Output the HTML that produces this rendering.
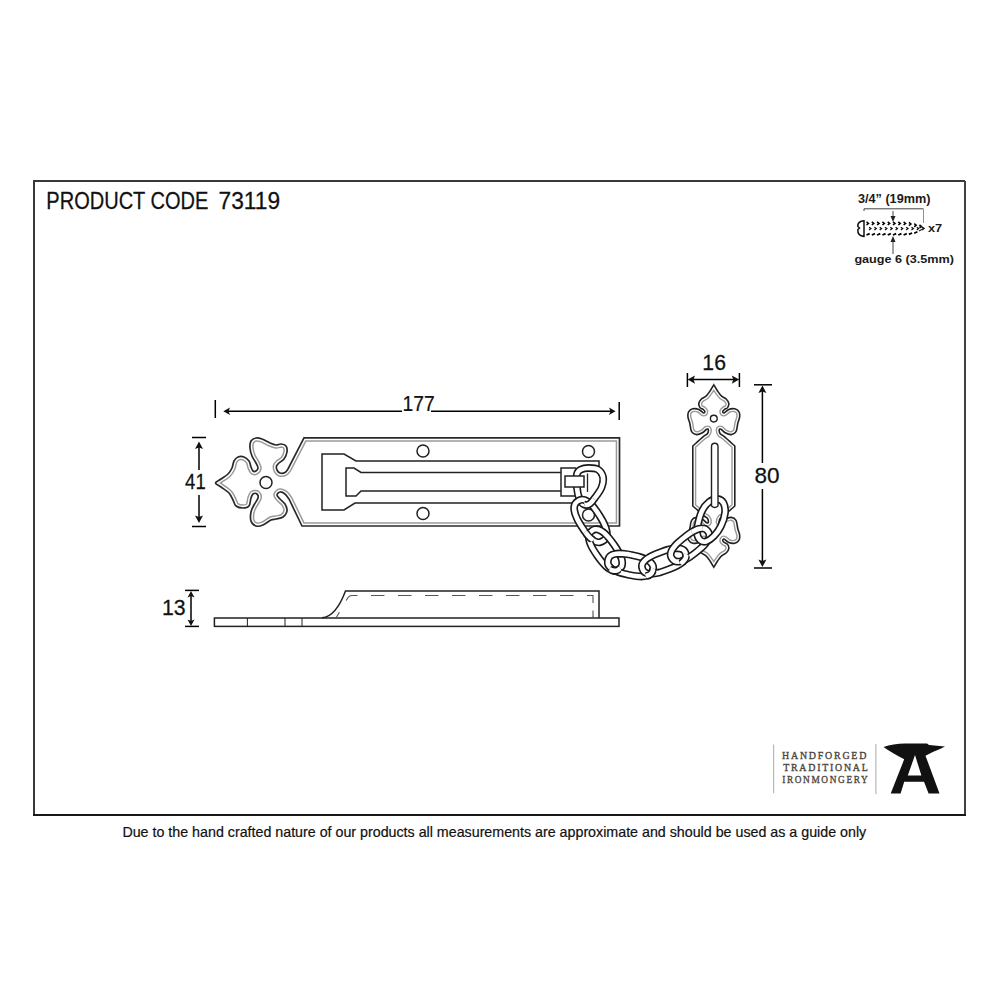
<!DOCTYPE html>
<html><head><meta charset="utf-8">
<style>
html,body{margin:0;padding:0;background:#fff;width:1000px;height:1000px;overflow:hidden}
svg{display:block}
</style></head>
<body>
<svg width="1000" height="1000" viewBox="0 0 1000 1000">
<rect x="0" y="0" width="1000" height="1000" fill="#fff"/>
<path d="M34 815 V181 H965" fill="none" stroke="#383838" stroke-width="2"/><path d="M965 181 V815" fill="none" stroke="#404040" stroke-width="2"/><path d="M33 815 H966" fill="none" stroke="#181818" stroke-width="2"/>

<defs><clipPath id="cpl"><path d="M304 437.9 L288 469 C287.5 469.6 286.3 471.8 285.0 472.5 C283.7 473.2 281.3 473.4 280.0 473.0 C278.7 472.6 277.6 471.2 277.0 470.0 C276.4 468.8 276.2 467.2 276.5 466.0 C276.8 464.8 277.8 464.2 279.0 463.0 C280.2 461.8 282.7 460.8 284.0 459.0 C285.3 457.2 286.7 454.2 287.0 452.0 C287.3 449.8 287.0 447.3 286.0 446.0 C285.0 444.7 282.7 444.2 281.0 444.0 C279.3 443.8 277.8 445.2 276.0 445.0 C274.2 444.8 272.3 444.0 270.0 443.0 C267.7 442.0 264.3 439.8 262.0 439.0 C259.7 438.2 257.8 437.7 256.0 438.0 C254.2 438.3 252.0 439.3 251.0 441.0 C250.0 442.7 249.8 445.5 250.0 448.0 C250.2 450.5 251.0 453.5 252.0 456.0 C253.0 458.5 255.0 461.0 256.0 463.0 C257.0 465.0 258.0 466.7 258.0 468.0 C258.0 469.3 256.8 470.5 256.0 471.0 C255.2 471.5 253.8 471.7 253.0 471.0 C252.2 470.3 251.7 468.7 251.0 467.0 C250.3 465.3 250.2 462.7 249.0 461.0 C247.8 459.3 245.8 457.7 244.0 457.0 C242.2 456.3 239.7 456.3 238.0 457.0 C236.3 457.7 235.0 459.2 234.0 461.0 C233.0 462.8 233.0 465.8 232.0 468.0 C231.0 470.2 229.8 472.2 228.0 474.0 C226.2 475.8 223.1 477.5 221.0 479.0 C218.9 480.5 215.5 481.7 215.5 483.0 C215.5 484.3 218.8 485.3 221.0 487.0 C223.2 488.7 227.0 490.8 229.0 493.0 C231.0 495.2 231.8 497.8 233.0 500.0 C234.2 502.2 234.3 504.7 236.0 506.0 C237.7 507.3 240.8 508.0 243.0 508.0 C245.2 508.0 247.7 507.7 249.0 506.0 C250.3 504.3 250.3 500.0 251.0 498.0 C251.7 496.0 252.0 494.7 253.0 494.0 C254.0 493.3 256.2 493.3 257.0 494.0 C257.8 494.7 258.5 496.2 258.0 498.0 C257.5 499.8 255.2 502.7 254.0 505.0 C252.8 507.3 251.5 509.3 251.0 512.0 C250.5 514.7 250.2 518.7 251.0 521.0 C251.8 523.3 254.0 525.3 256.0 526.0 C258.0 526.7 260.5 526.0 263.0 525.0 C265.5 524.0 268.8 521.0 271.0 520.0 C273.2 519.0 274.0 519.5 276.0 519.0 C278.0 518.5 281.2 518.3 283.0 517.0 C284.8 515.7 286.7 513.2 287.0 511.0 C287.3 508.8 286.2 506.0 285.0 504.0 C283.8 502.0 281.3 500.5 280.0 499.0 C278.7 497.5 277.0 496.2 277.0 495.0 C277.0 493.8 278.7 492.2 280.0 492.0 C281.3 491.8 283.5 492.8 285.0 494.0 C286.5 495.2 288.3 498.2 289.0 499.0 L302 526 L619.5 526 L619.5 437.9 Z"/></clipPath></defs>
<path d="M304 437.9 L288 469 C287.5 469.6 286.3 471.8 285.0 472.5 C283.7 473.2 281.3 473.4 280.0 473.0 C278.7 472.6 277.6 471.2 277.0 470.0 C276.4 468.8 276.2 467.2 276.5 466.0 C276.8 464.8 277.8 464.2 279.0 463.0 C280.2 461.8 282.7 460.8 284.0 459.0 C285.3 457.2 286.7 454.2 287.0 452.0 C287.3 449.8 287.0 447.3 286.0 446.0 C285.0 444.7 282.7 444.2 281.0 444.0 C279.3 443.8 277.8 445.2 276.0 445.0 C274.2 444.8 272.3 444.0 270.0 443.0 C267.7 442.0 264.3 439.8 262.0 439.0 C259.7 438.2 257.8 437.7 256.0 438.0 C254.2 438.3 252.0 439.3 251.0 441.0 C250.0 442.7 249.8 445.5 250.0 448.0 C250.2 450.5 251.0 453.5 252.0 456.0 C253.0 458.5 255.0 461.0 256.0 463.0 C257.0 465.0 258.0 466.7 258.0 468.0 C258.0 469.3 256.8 470.5 256.0 471.0 C255.2 471.5 253.8 471.7 253.0 471.0 C252.2 470.3 251.7 468.7 251.0 467.0 C250.3 465.3 250.2 462.7 249.0 461.0 C247.8 459.3 245.8 457.7 244.0 457.0 C242.2 456.3 239.7 456.3 238.0 457.0 C236.3 457.7 235.0 459.2 234.0 461.0 C233.0 462.8 233.0 465.8 232.0 468.0 C231.0 470.2 229.8 472.2 228.0 474.0 C226.2 475.8 223.1 477.5 221.0 479.0 C218.9 480.5 215.5 481.7 215.5 483.0 C215.5 484.3 218.8 485.3 221.0 487.0 C223.2 488.7 227.0 490.8 229.0 493.0 C231.0 495.2 231.8 497.8 233.0 500.0 C234.2 502.2 234.3 504.7 236.0 506.0 C237.7 507.3 240.8 508.0 243.0 508.0 C245.2 508.0 247.7 507.7 249.0 506.0 C250.3 504.3 250.3 500.0 251.0 498.0 C251.7 496.0 252.0 494.7 253.0 494.0 C254.0 493.3 256.2 493.3 257.0 494.0 C257.8 494.7 258.5 496.2 258.0 498.0 C257.5 499.8 255.2 502.7 254.0 505.0 C252.8 507.3 251.5 509.3 251.0 512.0 C250.5 514.7 250.2 518.7 251.0 521.0 C251.8 523.3 254.0 525.3 256.0 526.0 C258.0 526.7 260.5 526.0 263.0 525.0 C265.5 524.0 268.8 521.0 271.0 520.0 C273.2 519.0 274.0 519.5 276.0 519.0 C278.0 518.5 281.2 518.3 283.0 517.0 C284.8 515.7 286.7 513.2 287.0 511.0 C287.3 508.8 286.2 506.0 285.0 504.0 C283.8 502.0 281.3 500.5 280.0 499.0 C278.7 497.5 277.0 496.2 277.0 495.0 C277.0 493.8 278.7 492.2 280.0 492.0 C281.3 491.8 283.5 492.8 285.0 494.0 C286.5 495.2 288.3 498.2 289.0 499.0 L302 526 L619.5 526 L619.5 437.9 Z" fill="#fff"/>
<g clip-path="url(#cpl)" fill="none">
 <path d="M304 437.9 L288 469 C287.5 469.6 286.3 471.8 285.0 472.5 C283.7 473.2 281.3 473.4 280.0 473.0 C278.7 472.6 277.6 471.2 277.0 470.0 C276.4 468.8 276.2 467.2 276.5 466.0 C276.8 464.8 277.8 464.2 279.0 463.0 C280.2 461.8 282.7 460.8 284.0 459.0 C285.3 457.2 286.7 454.2 287.0 452.0 C287.3 449.8 287.0 447.3 286.0 446.0 C285.0 444.7 282.7 444.2 281.0 444.0 C279.3 443.8 277.8 445.2 276.0 445.0 C274.2 444.8 272.3 444.0 270.0 443.0 C267.7 442.0 264.3 439.8 262.0 439.0 C259.7 438.2 257.8 437.7 256.0 438.0 C254.2 438.3 252.0 439.3 251.0 441.0 C250.0 442.7 249.8 445.5 250.0 448.0 C250.2 450.5 251.0 453.5 252.0 456.0 C253.0 458.5 255.0 461.0 256.0 463.0 C257.0 465.0 258.0 466.7 258.0 468.0 C258.0 469.3 256.8 470.5 256.0 471.0 C255.2 471.5 253.8 471.7 253.0 471.0 C252.2 470.3 251.7 468.7 251.0 467.0 C250.3 465.3 250.2 462.7 249.0 461.0 C247.8 459.3 245.8 457.7 244.0 457.0 C242.2 456.3 239.7 456.3 238.0 457.0 C236.3 457.7 235.0 459.2 234.0 461.0 C233.0 462.8 233.0 465.8 232.0 468.0 C231.0 470.2 229.8 472.2 228.0 474.0 C226.2 475.8 223.1 477.5 221.0 479.0 C218.9 480.5 215.5 481.7 215.5 483.0 C215.5 484.3 218.8 485.3 221.0 487.0 C223.2 488.7 227.0 490.8 229.0 493.0 C231.0 495.2 231.8 497.8 233.0 500.0 C234.2 502.2 234.3 504.7 236.0 506.0 C237.7 507.3 240.8 508.0 243.0 508.0 C245.2 508.0 247.7 507.7 249.0 506.0 C250.3 504.3 250.3 500.0 251.0 498.0 C251.7 496.0 252.0 494.7 253.0 494.0 C254.0 493.3 256.2 493.3 257.0 494.0 C257.8 494.7 258.5 496.2 258.0 498.0 C257.5 499.8 255.2 502.7 254.0 505.0 C252.8 507.3 251.5 509.3 251.0 512.0 C250.5 514.7 250.2 518.7 251.0 521.0 C251.8 523.3 254.0 525.3 256.0 526.0 C258.0 526.7 260.5 526.0 263.0 525.0 C265.5 524.0 268.8 521.0 271.0 520.0 C273.2 519.0 274.0 519.5 276.0 519.0 C278.0 518.5 281.2 518.3 283.0 517.0 C284.8 515.7 286.7 513.2 287.0 511.0 C287.3 508.8 286.2 506.0 285.0 504.0 C283.8 502.0 281.3 500.5 280.0 499.0 C278.7 497.5 277.0 496.2 277.0 495.0 C277.0 493.8 278.7 492.2 280.0 492.0 C281.3 491.8 283.5 492.8 285.0 494.0 C286.5 495.2 288.3 498.2 289.0 499.0 L302 526 L619.5 526 L619.5 437.9 Z" stroke="#9a9a9a" stroke-width="7.6"/>
 <path d="M304 437.9 L288 469 C287.5 469.6 286.3 471.8 285.0 472.5 C283.7 473.2 281.3 473.4 280.0 473.0 C278.7 472.6 277.6 471.2 277.0 470.0 C276.4 468.8 276.2 467.2 276.5 466.0 C276.8 464.8 277.8 464.2 279.0 463.0 C280.2 461.8 282.7 460.8 284.0 459.0 C285.3 457.2 286.7 454.2 287.0 452.0 C287.3 449.8 287.0 447.3 286.0 446.0 C285.0 444.7 282.7 444.2 281.0 444.0 C279.3 443.8 277.8 445.2 276.0 445.0 C274.2 444.8 272.3 444.0 270.0 443.0 C267.7 442.0 264.3 439.8 262.0 439.0 C259.7 438.2 257.8 437.7 256.0 438.0 C254.2 438.3 252.0 439.3 251.0 441.0 C250.0 442.7 249.8 445.5 250.0 448.0 C250.2 450.5 251.0 453.5 252.0 456.0 C253.0 458.5 255.0 461.0 256.0 463.0 C257.0 465.0 258.0 466.7 258.0 468.0 C258.0 469.3 256.8 470.5 256.0 471.0 C255.2 471.5 253.8 471.7 253.0 471.0 C252.2 470.3 251.7 468.7 251.0 467.0 C250.3 465.3 250.2 462.7 249.0 461.0 C247.8 459.3 245.8 457.7 244.0 457.0 C242.2 456.3 239.7 456.3 238.0 457.0 C236.3 457.7 235.0 459.2 234.0 461.0 C233.0 462.8 233.0 465.8 232.0 468.0 C231.0 470.2 229.8 472.2 228.0 474.0 C226.2 475.8 223.1 477.5 221.0 479.0 C218.9 480.5 215.5 481.7 215.5 483.0 C215.5 484.3 218.8 485.3 221.0 487.0 C223.2 488.7 227.0 490.8 229.0 493.0 C231.0 495.2 231.8 497.8 233.0 500.0 C234.2 502.2 234.3 504.7 236.0 506.0 C237.7 507.3 240.8 508.0 243.0 508.0 C245.2 508.0 247.7 507.7 249.0 506.0 C250.3 504.3 250.3 500.0 251.0 498.0 C251.7 496.0 252.0 494.7 253.0 494.0 C254.0 493.3 256.2 493.3 257.0 494.0 C257.8 494.7 258.5 496.2 258.0 498.0 C257.5 499.8 255.2 502.7 254.0 505.0 C252.8 507.3 251.5 509.3 251.0 512.0 C250.5 514.7 250.2 518.7 251.0 521.0 C251.8 523.3 254.0 525.3 256.0 526.0 C258.0 526.7 260.5 526.0 263.0 525.0 C265.5 524.0 268.8 521.0 271.0 520.0 C273.2 519.0 274.0 519.5 276.0 519.0 C278.0 518.5 281.2 518.3 283.0 517.0 C284.8 515.7 286.7 513.2 287.0 511.0 C287.3 508.8 286.2 506.0 285.0 504.0 C283.8 502.0 281.3 500.5 280.0 499.0 C278.7 497.5 277.0 496.2 277.0 495.0 C277.0 493.8 278.7 492.2 280.0 492.0 C281.3 491.8 283.5 492.8 285.0 494.0 C286.5 495.2 288.3 498.2 289.0 499.0 L302 526 L619.5 526 L619.5 437.9 Z" stroke="#fff" stroke-width="4.6"/>
</g>
<path d="M304 437.9 L288 469 C287.5 469.6 286.3 471.8 285.0 472.5 C283.7 473.2 281.3 473.4 280.0 473.0 C278.7 472.6 277.6 471.2 277.0 470.0 C276.4 468.8 276.2 467.2 276.5 466.0 C276.8 464.8 277.8 464.2 279.0 463.0 C280.2 461.8 282.7 460.8 284.0 459.0 C285.3 457.2 286.7 454.2 287.0 452.0 C287.3 449.8 287.0 447.3 286.0 446.0 C285.0 444.7 282.7 444.2 281.0 444.0 C279.3 443.8 277.8 445.2 276.0 445.0 C274.2 444.8 272.3 444.0 270.0 443.0 C267.7 442.0 264.3 439.8 262.0 439.0 C259.7 438.2 257.8 437.7 256.0 438.0 C254.2 438.3 252.0 439.3 251.0 441.0 C250.0 442.7 249.8 445.5 250.0 448.0 C250.2 450.5 251.0 453.5 252.0 456.0 C253.0 458.5 255.0 461.0 256.0 463.0 C257.0 465.0 258.0 466.7 258.0 468.0 C258.0 469.3 256.8 470.5 256.0 471.0 C255.2 471.5 253.8 471.7 253.0 471.0 C252.2 470.3 251.7 468.7 251.0 467.0 C250.3 465.3 250.2 462.7 249.0 461.0 C247.8 459.3 245.8 457.7 244.0 457.0 C242.2 456.3 239.7 456.3 238.0 457.0 C236.3 457.7 235.0 459.2 234.0 461.0 C233.0 462.8 233.0 465.8 232.0 468.0 C231.0 470.2 229.8 472.2 228.0 474.0 C226.2 475.8 223.1 477.5 221.0 479.0 C218.9 480.5 215.5 481.7 215.5 483.0 C215.5 484.3 218.8 485.3 221.0 487.0 C223.2 488.7 227.0 490.8 229.0 493.0 C231.0 495.2 231.8 497.8 233.0 500.0 C234.2 502.2 234.3 504.7 236.0 506.0 C237.7 507.3 240.8 508.0 243.0 508.0 C245.2 508.0 247.7 507.7 249.0 506.0 C250.3 504.3 250.3 500.0 251.0 498.0 C251.7 496.0 252.0 494.7 253.0 494.0 C254.0 493.3 256.2 493.3 257.0 494.0 C257.8 494.7 258.5 496.2 258.0 498.0 C257.5 499.8 255.2 502.7 254.0 505.0 C252.8 507.3 251.5 509.3 251.0 512.0 C250.5 514.7 250.2 518.7 251.0 521.0 C251.8 523.3 254.0 525.3 256.0 526.0 C258.0 526.7 260.5 526.0 263.0 525.0 C265.5 524.0 268.8 521.0 271.0 520.0 C273.2 519.0 274.0 519.5 276.0 519.0 C278.0 518.5 281.2 518.3 283.0 517.0 C284.8 515.7 286.7 513.2 287.0 511.0 C287.3 508.8 286.2 506.0 285.0 504.0 C283.8 502.0 281.3 500.5 280.0 499.0 C278.7 497.5 277.0 496.2 277.0 495.0 C277.0 493.8 278.7 492.2 280.0 492.0 C281.3 491.8 283.5 492.8 285.0 494.0 C286.5 495.2 288.3 498.2 289.0 499.0 L302 526 L619.5 526 L619.5 437.9 Z" fill="none" stroke="#2a2a2a" stroke-width="1.7"/>
<g fill="none" stroke="#222" stroke-width="1.5">
 <circle cx="266" cy="482.5" r="6"/>
 <circle cx="423" cy="451" r="6"/>
 <circle cx="423" cy="513.5" r="6"/>
 <circle cx="588.5" cy="451.5" r="6"/>
 <circle cx="588.5" cy="515" r="6"/>
 <path d="M599 476 V461 H356 L344 454 H322 V510 H344 L355 503 H588"/>
 <path d="M561 472.5 H361 L354 468 H346 V496 H356 L361 491 H561"/>
 <path d="M576 468 H561 V496 H576"/>
</g>

<defs><clipPath id="ckp"><path d="M713.8 384.8 C714.4 385.8 716.1 388.9 717.4 390.8 C718.7 392.7 720.1 394.8 721.6 396.2 C723.1 397.6 725.2 398.0 726.4 399.2 C727.6 400.4 728.6 402.0 728.8 403.4 C729.0 404.8 728.3 406.6 727.6 407.6 C726.9 408.6 725.4 408.8 724.6 409.4 C723.8 410.0 722.9 410.6 722.8 411.2 C722.7 411.8 723.0 413.3 724.0 413.0 C725.0 412.7 727.0 410.1 728.8 409.4 C730.6 408.7 733.1 408.4 734.8 408.8 C736.5 409.2 738.2 410.4 739.0 411.8 C739.8 413.2 739.8 415.3 739.6 417.2 C739.4 419.1 738.4 420.8 737.8 423.2 C737.2 425.6 737.1 429.7 736.0 431.6 C734.9 433.5 733.0 434.4 731.2 434.6 C729.4 434.8 726.9 433.7 725.2 432.8 C723.5 431.9 722.0 429.7 721.0 429.2 C720.0 428.7 719.3 429.0 719.2 429.8 C719.1 430.6 719.6 432.9 720.4 434.0 C721.2 435.1 721.6 434.4 724.0 436.4 C726.4 438.4 733.0 444.4 734.8 446.0 L734.8 506 C733.0 507.6 726.4 513.6 724.0 515.6 C721.6 517.6 721.2 516.9 720.4 518.0 C719.6 519.1 719.1 521.4 719.2 522.2 C719.3 523.0 720.0 523.3 721.0 522.8 C722.0 522.3 723.5 520.1 725.2 519.2 C726.9 518.3 729.4 517.2 731.2 517.4 C733.0 517.6 734.9 518.5 736.0 520.4 C737.1 522.3 737.2 526.4 737.8 528.8 C738.4 531.2 739.4 532.9 739.6 534.8 C739.8 536.7 739.8 538.8 739.0 540.2 C738.2 541.6 736.5 542.8 734.8 543.2 C733.1 543.6 730.6 543.3 728.8 542.6 C727.0 541.9 725.0 539.3 724.0 539.0 C723.0 538.7 722.7 540.2 722.8 540.8 C722.9 541.4 723.8 542.0 724.6 542.6 C725.4 543.2 726.9 543.4 727.6 544.4 C728.3 545.4 729.0 547.2 728.8 548.6 C728.6 550.0 727.6 551.6 726.4 552.8 C725.2 554.0 723.1 554.4 721.6 555.8 C720.1 557.2 718.7 559.3 717.4 561.2 C716.1 563.1 714.4 566.2 713.8 567.2 C713.2 566.2 711.5 563.1 710.2 561.2 C708.9 559.3 707.5 557.2 706.0 555.8 C704.5 554.4 702.4 554.0 701.2 552.8 C700.0 551.6 699.0 550.0 698.8 548.6 C698.6 547.2 699.3 545.4 700.0 544.4 C700.7 543.4 702.2 543.2 703.0 542.6 C703.8 542.0 704.7 541.4 704.8 540.8 C704.9 540.2 704.6 538.7 703.6 539.0 C702.6 539.3 700.6 541.9 698.8 542.6 C697.0 543.3 694.5 543.6 692.8 543.2 C691.1 542.8 689.4 541.6 688.6 540.2 C687.8 538.8 687.8 536.7 688.0 534.8 C688.2 532.9 689.2 531.2 689.8 528.8 C690.4 526.4 690.5 522.3 691.6 520.4 C692.7 518.5 694.6 517.6 696.4 517.4 C698.2 517.2 700.7 518.3 702.4 519.2 C704.1 520.1 705.6 522.3 706.6 522.8 C707.6 523.3 708.3 523.0 708.4 522.2 C708.5 521.4 708.0 519.1 707.2 518.0 C706.4 516.9 706.0 517.6 703.6 515.6 C701.2 513.6 694.6 507.6 692.8 506.0 L692.8 446 C694.6 444.4 701.2 438.4 703.6 436.4 C706.0 434.4 706.4 435.1 707.2 434.0 C708.0 432.9 708.5 430.6 708.4 429.8 C708.3 429.0 707.6 428.7 706.6 429.2 C705.6 429.7 704.1 431.9 702.4 432.8 C700.7 433.7 698.2 434.8 696.4 434.6 C694.6 434.4 692.7 433.5 691.6 431.6 C690.5 429.7 690.4 425.6 689.8 423.2 C689.2 420.8 688.2 419.1 688.0 417.2 C687.8 415.3 687.8 413.2 688.6 411.8 C689.4 410.4 691.1 409.2 692.8 408.8 C694.5 408.4 697.0 408.7 698.8 409.4 C700.6 410.1 702.6 412.7 703.6 413.0 C704.6 413.3 704.9 411.8 704.8 411.2 C704.7 410.6 703.8 410.0 703.0 409.4 C702.2 408.8 700.7 408.6 700.0 407.6 C699.3 406.6 698.6 404.8 698.8 403.4 C699.0 402.0 700.0 400.4 701.2 399.2 C702.4 398.0 704.5 397.6 706.0 396.2 C707.5 394.8 708.9 392.7 710.2 390.8 C711.5 388.9 713.2 385.8 713.8 384.8 Z"/></clipPath></defs>
<path d="M713.8 384.8 C714.4 385.8 716.1 388.9 717.4 390.8 C718.7 392.7 720.1 394.8 721.6 396.2 C723.1 397.6 725.2 398.0 726.4 399.2 C727.6 400.4 728.6 402.0 728.8 403.4 C729.0 404.8 728.3 406.6 727.6 407.6 C726.9 408.6 725.4 408.8 724.6 409.4 C723.8 410.0 722.9 410.6 722.8 411.2 C722.7 411.8 723.0 413.3 724.0 413.0 C725.0 412.7 727.0 410.1 728.8 409.4 C730.6 408.7 733.1 408.4 734.8 408.8 C736.5 409.2 738.2 410.4 739.0 411.8 C739.8 413.2 739.8 415.3 739.6 417.2 C739.4 419.1 738.4 420.8 737.8 423.2 C737.2 425.6 737.1 429.7 736.0 431.6 C734.9 433.5 733.0 434.4 731.2 434.6 C729.4 434.8 726.9 433.7 725.2 432.8 C723.5 431.9 722.0 429.7 721.0 429.2 C720.0 428.7 719.3 429.0 719.2 429.8 C719.1 430.6 719.6 432.9 720.4 434.0 C721.2 435.1 721.6 434.4 724.0 436.4 C726.4 438.4 733.0 444.4 734.8 446.0 L734.8 506 C733.0 507.6 726.4 513.6 724.0 515.6 C721.6 517.6 721.2 516.9 720.4 518.0 C719.6 519.1 719.1 521.4 719.2 522.2 C719.3 523.0 720.0 523.3 721.0 522.8 C722.0 522.3 723.5 520.1 725.2 519.2 C726.9 518.3 729.4 517.2 731.2 517.4 C733.0 517.6 734.9 518.5 736.0 520.4 C737.1 522.3 737.2 526.4 737.8 528.8 C738.4 531.2 739.4 532.9 739.6 534.8 C739.8 536.7 739.8 538.8 739.0 540.2 C738.2 541.6 736.5 542.8 734.8 543.2 C733.1 543.6 730.6 543.3 728.8 542.6 C727.0 541.9 725.0 539.3 724.0 539.0 C723.0 538.7 722.7 540.2 722.8 540.8 C722.9 541.4 723.8 542.0 724.6 542.6 C725.4 543.2 726.9 543.4 727.6 544.4 C728.3 545.4 729.0 547.2 728.8 548.6 C728.6 550.0 727.6 551.6 726.4 552.8 C725.2 554.0 723.1 554.4 721.6 555.8 C720.1 557.2 718.7 559.3 717.4 561.2 C716.1 563.1 714.4 566.2 713.8 567.2 C713.2 566.2 711.5 563.1 710.2 561.2 C708.9 559.3 707.5 557.2 706.0 555.8 C704.5 554.4 702.4 554.0 701.2 552.8 C700.0 551.6 699.0 550.0 698.8 548.6 C698.6 547.2 699.3 545.4 700.0 544.4 C700.7 543.4 702.2 543.2 703.0 542.6 C703.8 542.0 704.7 541.4 704.8 540.8 C704.9 540.2 704.6 538.7 703.6 539.0 C702.6 539.3 700.6 541.9 698.8 542.6 C697.0 543.3 694.5 543.6 692.8 543.2 C691.1 542.8 689.4 541.6 688.6 540.2 C687.8 538.8 687.8 536.7 688.0 534.8 C688.2 532.9 689.2 531.2 689.8 528.8 C690.4 526.4 690.5 522.3 691.6 520.4 C692.7 518.5 694.6 517.6 696.4 517.4 C698.2 517.2 700.7 518.3 702.4 519.2 C704.1 520.1 705.6 522.3 706.6 522.8 C707.6 523.3 708.3 523.0 708.4 522.2 C708.5 521.4 708.0 519.1 707.2 518.0 C706.4 516.9 706.0 517.6 703.6 515.6 C701.2 513.6 694.6 507.6 692.8 506.0 L692.8 446 C694.6 444.4 701.2 438.4 703.6 436.4 C706.0 434.4 706.4 435.1 707.2 434.0 C708.0 432.9 708.5 430.6 708.4 429.8 C708.3 429.0 707.6 428.7 706.6 429.2 C705.6 429.7 704.1 431.9 702.4 432.8 C700.7 433.7 698.2 434.8 696.4 434.6 C694.6 434.4 692.7 433.5 691.6 431.6 C690.5 429.7 690.4 425.6 689.8 423.2 C689.2 420.8 688.2 419.1 688.0 417.2 C687.8 415.3 687.8 413.2 688.6 411.8 C689.4 410.4 691.1 409.2 692.8 408.8 C694.5 408.4 697.0 408.7 698.8 409.4 C700.6 410.1 702.6 412.7 703.6 413.0 C704.6 413.3 704.9 411.8 704.8 411.2 C704.7 410.6 703.8 410.0 703.0 409.4 C702.2 408.8 700.7 408.6 700.0 407.6 C699.3 406.6 698.6 404.8 698.8 403.4 C699.0 402.0 700.0 400.4 701.2 399.2 C702.4 398.0 704.5 397.6 706.0 396.2 C707.5 394.8 708.9 392.7 710.2 390.8 C711.5 388.9 713.2 385.8 713.8 384.8 Z" fill="#fff"/>
<g clip-path="url(#ckp)" fill="none">
 <path d="M713.8 384.8 C714.4 385.8 716.1 388.9 717.4 390.8 C718.7 392.7 720.1 394.8 721.6 396.2 C723.1 397.6 725.2 398.0 726.4 399.2 C727.6 400.4 728.6 402.0 728.8 403.4 C729.0 404.8 728.3 406.6 727.6 407.6 C726.9 408.6 725.4 408.8 724.6 409.4 C723.8 410.0 722.9 410.6 722.8 411.2 C722.7 411.8 723.0 413.3 724.0 413.0 C725.0 412.7 727.0 410.1 728.8 409.4 C730.6 408.7 733.1 408.4 734.8 408.8 C736.5 409.2 738.2 410.4 739.0 411.8 C739.8 413.2 739.8 415.3 739.6 417.2 C739.4 419.1 738.4 420.8 737.8 423.2 C737.2 425.6 737.1 429.7 736.0 431.6 C734.9 433.5 733.0 434.4 731.2 434.6 C729.4 434.8 726.9 433.7 725.2 432.8 C723.5 431.9 722.0 429.7 721.0 429.2 C720.0 428.7 719.3 429.0 719.2 429.8 C719.1 430.6 719.6 432.9 720.4 434.0 C721.2 435.1 721.6 434.4 724.0 436.4 C726.4 438.4 733.0 444.4 734.8 446.0 L734.8 506 C733.0 507.6 726.4 513.6 724.0 515.6 C721.6 517.6 721.2 516.9 720.4 518.0 C719.6 519.1 719.1 521.4 719.2 522.2 C719.3 523.0 720.0 523.3 721.0 522.8 C722.0 522.3 723.5 520.1 725.2 519.2 C726.9 518.3 729.4 517.2 731.2 517.4 C733.0 517.6 734.9 518.5 736.0 520.4 C737.1 522.3 737.2 526.4 737.8 528.8 C738.4 531.2 739.4 532.9 739.6 534.8 C739.8 536.7 739.8 538.8 739.0 540.2 C738.2 541.6 736.5 542.8 734.8 543.2 C733.1 543.6 730.6 543.3 728.8 542.6 C727.0 541.9 725.0 539.3 724.0 539.0 C723.0 538.7 722.7 540.2 722.8 540.8 C722.9 541.4 723.8 542.0 724.6 542.6 C725.4 543.2 726.9 543.4 727.6 544.4 C728.3 545.4 729.0 547.2 728.8 548.6 C728.6 550.0 727.6 551.6 726.4 552.8 C725.2 554.0 723.1 554.4 721.6 555.8 C720.1 557.2 718.7 559.3 717.4 561.2 C716.1 563.1 714.4 566.2 713.8 567.2 C713.2 566.2 711.5 563.1 710.2 561.2 C708.9 559.3 707.5 557.2 706.0 555.8 C704.5 554.4 702.4 554.0 701.2 552.8 C700.0 551.6 699.0 550.0 698.8 548.6 C698.6 547.2 699.3 545.4 700.0 544.4 C700.7 543.4 702.2 543.2 703.0 542.6 C703.8 542.0 704.7 541.4 704.8 540.8 C704.9 540.2 704.6 538.7 703.6 539.0 C702.6 539.3 700.6 541.9 698.8 542.6 C697.0 543.3 694.5 543.6 692.8 543.2 C691.1 542.8 689.4 541.6 688.6 540.2 C687.8 538.8 687.8 536.7 688.0 534.8 C688.2 532.9 689.2 531.2 689.8 528.8 C690.4 526.4 690.5 522.3 691.6 520.4 C692.7 518.5 694.6 517.6 696.4 517.4 C698.2 517.2 700.7 518.3 702.4 519.2 C704.1 520.1 705.6 522.3 706.6 522.8 C707.6 523.3 708.3 523.0 708.4 522.2 C708.5 521.4 708.0 519.1 707.2 518.0 C706.4 516.9 706.0 517.6 703.6 515.6 C701.2 513.6 694.6 507.6 692.8 506.0 L692.8 446 C694.6 444.4 701.2 438.4 703.6 436.4 C706.0 434.4 706.4 435.1 707.2 434.0 C708.0 432.9 708.5 430.6 708.4 429.8 C708.3 429.0 707.6 428.7 706.6 429.2 C705.6 429.7 704.1 431.9 702.4 432.8 C700.7 433.7 698.2 434.8 696.4 434.6 C694.6 434.4 692.7 433.5 691.6 431.6 C690.5 429.7 690.4 425.6 689.8 423.2 C689.2 420.8 688.2 419.1 688.0 417.2 C687.8 415.3 687.8 413.2 688.6 411.8 C689.4 410.4 691.1 409.2 692.8 408.8 C694.5 408.4 697.0 408.7 698.8 409.4 C700.6 410.1 702.6 412.7 703.6 413.0 C704.6 413.3 704.9 411.8 704.8 411.2 C704.7 410.6 703.8 410.0 703.0 409.4 C702.2 408.8 700.7 408.6 700.0 407.6 C699.3 406.6 698.6 404.8 698.8 403.4 C699.0 402.0 700.0 400.4 701.2 399.2 C702.4 398.0 704.5 397.6 706.0 396.2 C707.5 394.8 708.9 392.7 710.2 390.8 C711.5 388.9 713.2 385.8 713.8 384.8 Z" stroke="#9a9a9a" stroke-width="7.0"/>
 <path d="M713.8 384.8 C714.4 385.8 716.1 388.9 717.4 390.8 C718.7 392.7 720.1 394.8 721.6 396.2 C723.1 397.6 725.2 398.0 726.4 399.2 C727.6 400.4 728.6 402.0 728.8 403.4 C729.0 404.8 728.3 406.6 727.6 407.6 C726.9 408.6 725.4 408.8 724.6 409.4 C723.8 410.0 722.9 410.6 722.8 411.2 C722.7 411.8 723.0 413.3 724.0 413.0 C725.0 412.7 727.0 410.1 728.8 409.4 C730.6 408.7 733.1 408.4 734.8 408.8 C736.5 409.2 738.2 410.4 739.0 411.8 C739.8 413.2 739.8 415.3 739.6 417.2 C739.4 419.1 738.4 420.8 737.8 423.2 C737.2 425.6 737.1 429.7 736.0 431.6 C734.9 433.5 733.0 434.4 731.2 434.6 C729.4 434.8 726.9 433.7 725.2 432.8 C723.5 431.9 722.0 429.7 721.0 429.2 C720.0 428.7 719.3 429.0 719.2 429.8 C719.1 430.6 719.6 432.9 720.4 434.0 C721.2 435.1 721.6 434.4 724.0 436.4 C726.4 438.4 733.0 444.4 734.8 446.0 L734.8 506 C733.0 507.6 726.4 513.6 724.0 515.6 C721.6 517.6 721.2 516.9 720.4 518.0 C719.6 519.1 719.1 521.4 719.2 522.2 C719.3 523.0 720.0 523.3 721.0 522.8 C722.0 522.3 723.5 520.1 725.2 519.2 C726.9 518.3 729.4 517.2 731.2 517.4 C733.0 517.6 734.9 518.5 736.0 520.4 C737.1 522.3 737.2 526.4 737.8 528.8 C738.4 531.2 739.4 532.9 739.6 534.8 C739.8 536.7 739.8 538.8 739.0 540.2 C738.2 541.6 736.5 542.8 734.8 543.2 C733.1 543.6 730.6 543.3 728.8 542.6 C727.0 541.9 725.0 539.3 724.0 539.0 C723.0 538.7 722.7 540.2 722.8 540.8 C722.9 541.4 723.8 542.0 724.6 542.6 C725.4 543.2 726.9 543.4 727.6 544.4 C728.3 545.4 729.0 547.2 728.8 548.6 C728.6 550.0 727.6 551.6 726.4 552.8 C725.2 554.0 723.1 554.4 721.6 555.8 C720.1 557.2 718.7 559.3 717.4 561.2 C716.1 563.1 714.4 566.2 713.8 567.2 C713.2 566.2 711.5 563.1 710.2 561.2 C708.9 559.3 707.5 557.2 706.0 555.8 C704.5 554.4 702.4 554.0 701.2 552.8 C700.0 551.6 699.0 550.0 698.8 548.6 C698.6 547.2 699.3 545.4 700.0 544.4 C700.7 543.4 702.2 543.2 703.0 542.6 C703.8 542.0 704.7 541.4 704.8 540.8 C704.9 540.2 704.6 538.7 703.6 539.0 C702.6 539.3 700.6 541.9 698.8 542.6 C697.0 543.3 694.5 543.6 692.8 543.2 C691.1 542.8 689.4 541.6 688.6 540.2 C687.8 538.8 687.8 536.7 688.0 534.8 C688.2 532.9 689.2 531.2 689.8 528.8 C690.4 526.4 690.5 522.3 691.6 520.4 C692.7 518.5 694.6 517.6 696.4 517.4 C698.2 517.2 700.7 518.3 702.4 519.2 C704.1 520.1 705.6 522.3 706.6 522.8 C707.6 523.3 708.3 523.0 708.4 522.2 C708.5 521.4 708.0 519.1 707.2 518.0 C706.4 516.9 706.0 517.6 703.6 515.6 C701.2 513.6 694.6 507.6 692.8 506.0 L692.8 446 C694.6 444.4 701.2 438.4 703.6 436.4 C706.0 434.4 706.4 435.1 707.2 434.0 C708.0 432.9 708.5 430.6 708.4 429.8 C708.3 429.0 707.6 428.7 706.6 429.2 C705.6 429.7 704.1 431.9 702.4 432.8 C700.7 433.7 698.2 434.8 696.4 434.6 C694.6 434.4 692.7 433.5 691.6 431.6 C690.5 429.7 690.4 425.6 689.8 423.2 C689.2 420.8 688.2 419.1 688.0 417.2 C687.8 415.3 687.8 413.2 688.6 411.8 C689.4 410.4 691.1 409.2 692.8 408.8 C694.5 408.4 697.0 408.7 698.8 409.4 C700.6 410.1 702.6 412.7 703.6 413.0 C704.6 413.3 704.9 411.8 704.8 411.2 C704.7 410.6 703.8 410.0 703.0 409.4 C702.2 408.8 700.7 408.6 700.0 407.6 C699.3 406.6 698.6 404.8 698.8 403.4 C699.0 402.0 700.0 400.4 701.2 399.2 C702.4 398.0 704.5 397.6 706.0 396.2 C707.5 394.8 708.9 392.7 710.2 390.8 C711.5 388.9 713.2 385.8 713.8 384.8 Z" stroke="#fff" stroke-width="4.2"/>
</g>
<path d="M713.8 384.8 C714.4 385.8 716.1 388.9 717.4 390.8 C718.7 392.7 720.1 394.8 721.6 396.2 C723.1 397.6 725.2 398.0 726.4 399.2 C727.6 400.4 728.6 402.0 728.8 403.4 C729.0 404.8 728.3 406.6 727.6 407.6 C726.9 408.6 725.4 408.8 724.6 409.4 C723.8 410.0 722.9 410.6 722.8 411.2 C722.7 411.8 723.0 413.3 724.0 413.0 C725.0 412.7 727.0 410.1 728.8 409.4 C730.6 408.7 733.1 408.4 734.8 408.8 C736.5 409.2 738.2 410.4 739.0 411.8 C739.8 413.2 739.8 415.3 739.6 417.2 C739.4 419.1 738.4 420.8 737.8 423.2 C737.2 425.6 737.1 429.7 736.0 431.6 C734.9 433.5 733.0 434.4 731.2 434.6 C729.4 434.8 726.9 433.7 725.2 432.8 C723.5 431.9 722.0 429.7 721.0 429.2 C720.0 428.7 719.3 429.0 719.2 429.8 C719.1 430.6 719.6 432.9 720.4 434.0 C721.2 435.1 721.6 434.4 724.0 436.4 C726.4 438.4 733.0 444.4 734.8 446.0 L734.8 506 C733.0 507.6 726.4 513.6 724.0 515.6 C721.6 517.6 721.2 516.9 720.4 518.0 C719.6 519.1 719.1 521.4 719.2 522.2 C719.3 523.0 720.0 523.3 721.0 522.8 C722.0 522.3 723.5 520.1 725.2 519.2 C726.9 518.3 729.4 517.2 731.2 517.4 C733.0 517.6 734.9 518.5 736.0 520.4 C737.1 522.3 737.2 526.4 737.8 528.8 C738.4 531.2 739.4 532.9 739.6 534.8 C739.8 536.7 739.8 538.8 739.0 540.2 C738.2 541.6 736.5 542.8 734.8 543.2 C733.1 543.6 730.6 543.3 728.8 542.6 C727.0 541.9 725.0 539.3 724.0 539.0 C723.0 538.7 722.7 540.2 722.8 540.8 C722.9 541.4 723.8 542.0 724.6 542.6 C725.4 543.2 726.9 543.4 727.6 544.4 C728.3 545.4 729.0 547.2 728.8 548.6 C728.6 550.0 727.6 551.6 726.4 552.8 C725.2 554.0 723.1 554.4 721.6 555.8 C720.1 557.2 718.7 559.3 717.4 561.2 C716.1 563.1 714.4 566.2 713.8 567.2 C713.2 566.2 711.5 563.1 710.2 561.2 C708.9 559.3 707.5 557.2 706.0 555.8 C704.5 554.4 702.4 554.0 701.2 552.8 C700.0 551.6 699.0 550.0 698.8 548.6 C698.6 547.2 699.3 545.4 700.0 544.4 C700.7 543.4 702.2 543.2 703.0 542.6 C703.8 542.0 704.7 541.4 704.8 540.8 C704.9 540.2 704.6 538.7 703.6 539.0 C702.6 539.3 700.6 541.9 698.8 542.6 C697.0 543.3 694.5 543.6 692.8 543.2 C691.1 542.8 689.4 541.6 688.6 540.2 C687.8 538.8 687.8 536.7 688.0 534.8 C688.2 532.9 689.2 531.2 689.8 528.8 C690.4 526.4 690.5 522.3 691.6 520.4 C692.7 518.5 694.6 517.6 696.4 517.4 C698.2 517.2 700.7 518.3 702.4 519.2 C704.1 520.1 705.6 522.3 706.6 522.8 C707.6 523.3 708.3 523.0 708.4 522.2 C708.5 521.4 708.0 519.1 707.2 518.0 C706.4 516.9 706.0 517.6 703.6 515.6 C701.2 513.6 694.6 507.6 692.8 506.0 L692.8 446 C694.6 444.4 701.2 438.4 703.6 436.4 C706.0 434.4 706.4 435.1 707.2 434.0 C708.0 432.9 708.5 430.6 708.4 429.8 C708.3 429.0 707.6 428.7 706.6 429.2 C705.6 429.7 704.1 431.9 702.4 432.8 C700.7 433.7 698.2 434.8 696.4 434.6 C694.6 434.4 692.7 433.5 691.6 431.6 C690.5 429.7 690.4 425.6 689.8 423.2 C689.2 420.8 688.2 419.1 688.0 417.2 C687.8 415.3 687.8 413.2 688.6 411.8 C689.4 410.4 691.1 409.2 692.8 408.8 C694.5 408.4 697.0 408.7 698.8 409.4 C700.6 410.1 702.6 412.7 703.6 413.0 C704.6 413.3 704.9 411.8 704.8 411.2 C704.7 410.6 703.8 410.0 703.0 409.4 C702.2 408.8 700.7 408.6 700.0 407.6 C699.3 406.6 698.6 404.8 698.8 403.4 C699.0 402.0 700.0 400.4 701.2 399.2 C702.4 398.0 704.5 397.6 706.0 396.2 C707.5 394.8 708.9 392.7 710.2 390.8 C711.5 388.9 713.2 385.8 713.8 384.8 Z" fill="none" stroke="#222" stroke-width="1.6"/>
<circle cx="713.8" cy="418.6" r="3.4" fill="none" stroke="#222" stroke-width="1.4"/>
<defs><clipPath id="ov0"><circle cx="590.2" cy="503.5" r="6"/></clipPath><clipPath id="ov1"><circle cx="588.8" cy="536.4" r="6"/></clipPath><clipPath id="ov2"><circle cx="615.2" cy="570.8" r="6"/></clipPath><clipPath id="ov3"><circle cx="651.0" cy="573.7" r="6"/></clipPath><clipPath id="ov4"><circle cx="684.7" cy="559.8" r="6"/></clipPath><clipPath id="ov5"><circle cx="697.0" cy="529.5" r="6"/></clipPath></defs><g><path d="M577.0 474.0 C577.7 470.9 579.1 470.5 581.0 469.5 C582.9 468.5 585.7 468.0 588.5 468.0 C591.3 468.0 595.6 468.0 598.0 469.5 C600.4 471.0 602.4 474.0 603.0 477.0 C603.6 480.0 602.8 484.3 601.5 487.6 C600.2 490.9 597.5 494.3 595.5 497.0 C593.5 499.7 591.4 502.8 589.5 504.0 C587.6 505.2 585.7 505.3 584.0 504.5 C582.3 503.7 580.7 501.8 579.5 499.0 C578.3 496.2 577.4 492.2 577.0 488.0 C576.6 483.8 576.3 477.1 577.0 474.0 Z" fill="none" stroke="#1a1a1a" stroke-width="7.8"/><path d="M577.0 474.0 C577.7 470.9 579.1 470.5 581.0 469.5 C582.9 468.5 585.7 468.0 588.5 468.0 C591.3 468.0 595.6 468.0 598.0 469.5 C600.4 471.0 602.4 474.0 603.0 477.0 C603.6 480.0 602.8 484.3 601.5 487.6 C600.2 490.9 597.5 494.3 595.5 497.0 C593.5 499.7 591.4 502.8 589.5 504.0 C587.6 505.2 585.7 505.3 584.0 504.5 C582.3 503.7 580.7 501.8 579.5 499.0 C578.3 496.2 577.4 492.2 577.0 488.0 C576.6 483.8 576.3 477.1 577.0 474.0 Z" fill="none" stroke="#fff" stroke-width="4.6"/></g>
<g><path d="M603.0 540.9 C601.9 541.6 600.7 542.1 599.6 542.3 C598.5 542.4 597.6 542.3 596.5 542.0 C595.4 541.6 594.3 541.1 593.2 540.3 C592.1 539.6 590.9 538.6 589.7 537.4 C588.5 536.2 587.4 535.0 586.1 533.2 C584.7 531.4 583.0 528.8 581.6 526.6 C580.2 524.3 578.6 521.7 577.6 519.7 C576.6 517.6 576.0 516.1 575.4 514.5 C574.9 512.9 574.5 511.5 574.3 510.1 C574.1 508.8 574.1 507.5 574.3 506.4 C574.5 505.3 574.7 504.4 575.4 503.5 C576.0 502.6 577.0 501.7 578.0 501.1 C579.1 500.4 580.3 499.9 581.4 499.7 C582.5 499.6 583.4 499.7 584.5 500.0 C585.6 500.4 586.7 500.9 587.8 501.7 C588.9 502.4 590.1 503.4 591.3 504.6 C592.5 505.8 593.6 507.0 594.9 508.8 C596.3 510.6 598.0 513.2 599.4 515.4 C600.8 517.7 602.4 520.3 603.4 522.3 C604.4 524.4 605.0 525.9 605.6 527.5 C606.1 529.1 606.5 530.5 606.7 531.9 C606.9 533.2 606.9 534.5 606.7 535.6 C606.5 536.7 606.3 537.6 605.6 538.5 C605.0 539.4 604.0 540.3 603.0 540.9 Z" fill="none" stroke="#1a1a1a" stroke-width="7.8"/><path d="M603.0 540.9 C601.9 541.6 600.7 542.1 599.6 542.3 C598.5 542.4 597.6 542.3 596.5 542.0 C595.4 541.6 594.3 541.1 593.2 540.3 C592.1 539.6 590.9 538.6 589.7 537.4 C588.5 536.2 587.4 535.0 586.1 533.2 C584.7 531.4 583.0 528.8 581.6 526.6 C580.2 524.3 578.6 521.7 577.6 519.7 C576.6 517.6 576.0 516.1 575.4 514.5 C574.9 512.9 574.5 511.5 574.3 510.1 C574.1 508.8 574.1 507.5 574.3 506.4 C574.5 505.3 574.7 504.4 575.4 503.5 C576.0 502.6 577.0 501.7 578.0 501.1 C579.1 500.4 580.3 499.9 581.4 499.7 C582.5 499.6 583.4 499.7 584.5 500.0 C585.6 500.4 586.7 500.9 587.8 501.7 C588.9 502.4 590.1 503.4 591.3 504.6 C592.5 505.8 593.6 507.0 594.9 508.8 C596.3 510.6 598.0 513.2 599.4 515.4 C600.8 517.7 602.4 520.3 603.4 522.3 C604.4 524.4 605.0 525.9 605.6 527.5 C606.1 529.1 606.5 530.5 606.7 531.9 C606.9 533.2 606.9 534.5 606.7 535.6 C606.5 536.7 606.3 537.6 605.6 538.5 C605.0 539.4 604.0 540.3 603.0 540.9 Z" fill="none" stroke="#fff" stroke-width="4.6"/></g>
<g><path d="M619.0 569.3 C618.1 569.9 616.9 570.5 615.8 570.7 C614.8 570.9 613.9 570.7 612.8 570.5 C611.8 570.2 610.7 569.6 609.5 568.9 C608.4 568.2 607.2 567.3 605.9 566.2 C604.7 565.0 603.5 563.8 602.1 562.1 C600.7 560.4 598.8 557.9 597.3 555.7 C595.8 553.6 594.1 551.0 593.0 549.1 C591.8 547.1 591.1 545.6 590.5 544.1 C589.8 542.5 589.4 541.1 589.1 539.8 C588.8 538.4 588.7 537.2 588.8 536.1 C588.9 535.0 589.1 534.1 589.6 533.2 C590.2 532.3 591.1 531.4 592.0 530.7 C592.9 530.1 594.1 529.5 595.2 529.3 C596.2 529.1 597.1 529.3 598.2 529.5 C599.2 529.8 600.3 530.4 601.5 531.1 C602.6 531.8 603.8 532.7 605.1 533.8 C606.3 535.0 607.5 536.2 608.9 537.9 C610.3 539.6 612.2 542.1 613.7 544.3 C615.2 546.4 616.9 549.0 618.0 550.9 C619.2 552.9 619.9 554.4 620.5 555.9 C621.2 557.5 621.6 558.9 621.9 560.2 C622.2 561.6 622.3 562.8 622.2 563.9 C622.1 565.0 621.9 565.9 621.4 566.8 C620.8 567.7 619.9 568.6 619.0 569.3 Z" fill="none" stroke="#1a1a1a" stroke-width="7.8"/><path d="M619.0 569.3 C618.1 569.9 616.9 570.5 615.8 570.7 C614.8 570.9 613.9 570.7 612.8 570.5 C611.8 570.2 610.7 569.6 609.5 568.9 C608.4 568.2 607.2 567.3 605.9 566.2 C604.7 565.0 603.5 563.8 602.1 562.1 C600.7 560.4 598.8 557.9 597.3 555.7 C595.8 553.6 594.1 551.0 593.0 549.1 C591.8 547.1 591.1 545.6 590.5 544.1 C589.8 542.5 589.4 541.1 589.1 539.8 C588.8 538.4 588.7 537.2 588.8 536.1 C588.9 535.0 589.1 534.1 589.6 533.2 C590.2 532.3 591.1 531.4 592.0 530.7 C592.9 530.1 594.1 529.5 595.2 529.3 C596.2 529.1 597.1 529.3 598.2 529.5 C599.2 529.8 600.3 530.4 601.5 531.1 C602.6 531.8 603.8 532.7 605.1 533.8 C606.3 535.0 607.5 536.2 608.9 537.9 C610.3 539.6 612.2 542.1 613.7 544.3 C615.2 546.4 616.9 549.0 618.0 550.9 C619.2 552.9 619.9 554.4 620.5 555.9 C621.2 557.5 621.6 558.9 621.9 560.2 C622.2 561.6 622.3 562.8 622.2 563.9 C622.1 565.0 621.9 565.9 621.4 566.8 C620.8 567.7 619.9 568.6 619.0 569.3 Z" fill="none" stroke="#fff" stroke-width="4.6"/></g>
<g><path d="M653.0 569.8 C652.8 570.9 652.3 572.1 651.7 573.0 C651.1 573.8 650.3 574.4 649.4 574.9 C648.4 575.4 647.3 575.8 646.0 576.0 C644.7 576.3 643.2 576.4 641.6 576.5 C639.9 576.5 638.3 576.4 636.1 576.1 C633.9 575.9 631.0 575.3 628.4 574.8 C625.9 574.2 623.0 573.5 620.8 572.9 C618.7 572.3 617.2 571.7 615.7 571.0 C614.2 570.3 613.0 569.6 611.9 568.8 C610.8 568.0 609.9 567.2 609.3 566.4 C608.6 565.5 608.1 564.7 607.9 563.7 C607.7 562.6 607.8 561.3 608.0 560.2 C608.2 559.1 608.7 557.9 609.3 557.0 C609.9 556.2 610.7 555.6 611.6 555.1 C612.6 554.6 613.7 554.2 615.0 554.0 C616.3 553.7 617.8 553.6 619.4 553.5 C621.1 553.5 622.7 553.6 624.9 553.9 C627.1 554.1 630.0 554.7 632.6 555.2 C635.1 555.8 638.0 556.5 640.2 557.1 C642.3 557.7 643.8 558.3 645.3 559.0 C646.8 559.7 648.0 560.4 649.1 561.2 C650.2 562.0 651.1 562.8 651.7 563.6 C652.4 564.5 652.9 565.3 653.1 566.3 C653.3 567.4 653.2 568.7 653.0 569.8 Z" fill="none" stroke="#1a1a1a" stroke-width="7.8"/><path d="M653.0 569.8 C652.8 570.9 652.3 572.1 651.7 573.0 C651.1 573.8 650.3 574.4 649.4 574.9 C648.4 575.4 647.3 575.8 646.0 576.0 C644.7 576.3 643.2 576.4 641.6 576.5 C639.9 576.5 638.3 576.4 636.1 576.1 C633.9 575.9 631.0 575.3 628.4 574.8 C625.9 574.2 623.0 573.5 620.8 572.9 C618.7 572.3 617.2 571.7 615.7 571.0 C614.2 570.3 613.0 569.6 611.9 568.8 C610.8 568.0 609.9 567.2 609.3 566.4 C608.6 565.5 608.1 564.7 607.9 563.7 C607.7 562.6 607.8 561.3 608.0 560.2 C608.2 559.1 608.7 557.9 609.3 557.0 C609.9 556.2 610.7 555.6 611.6 555.1 C612.6 554.6 613.7 554.2 615.0 554.0 C616.3 553.7 617.8 553.6 619.4 553.5 C621.1 553.5 622.7 553.6 624.9 553.9 C627.1 554.1 630.0 554.7 632.6 555.2 C635.1 555.8 638.0 556.5 640.2 557.1 C642.3 557.7 643.8 558.3 645.3 559.0 C646.8 559.7 648.0 560.4 649.1 561.2 C650.2 562.0 651.1 562.8 651.7 563.6 C652.4 564.5 652.9 565.3 653.1 566.3 C653.3 567.4 653.2 568.7 653.0 569.8 Z" fill="none" stroke="#fff" stroke-width="4.6"/></g>
<g><path d="M685.6 553.1 C686.0 554.1 686.2 555.4 686.1 556.4 C686.0 557.4 685.7 558.2 685.1 559.1 C684.6 560.0 683.8 560.9 682.8 561.8 C681.9 562.7 680.7 563.6 679.3 564.4 C677.9 565.3 676.5 566.1 674.5 567.0 C672.5 567.9 669.7 569.0 667.2 569.9 C664.8 570.8 662.0 571.8 659.8 572.4 C657.7 572.9 656.1 573.2 654.5 573.5 C652.9 573.7 651.4 573.8 650.1 573.7 C648.8 573.7 647.6 573.5 646.6 573.1 C645.6 572.8 644.8 572.4 644.1 571.7 C643.4 571.0 642.8 569.9 642.4 568.9 C642.0 567.9 641.8 566.6 641.9 565.6 C642.0 564.6 642.3 563.8 642.9 562.9 C643.4 562.0 644.2 561.1 645.2 560.2 C646.1 559.3 647.3 558.4 648.7 557.6 C650.1 556.7 651.5 555.9 653.5 555.0 C655.5 554.1 658.3 553.0 660.8 552.1 C663.2 551.2 666.0 550.2 668.2 549.6 C670.3 549.1 671.9 548.8 673.5 548.5 C675.1 548.3 676.6 548.2 677.9 548.3 C679.2 548.3 680.4 548.5 681.4 548.9 C682.4 549.2 683.2 549.6 683.9 550.3 C684.6 551.0 685.2 552.1 685.6 553.1 Z" fill="none" stroke="#1a1a1a" stroke-width="7.8"/><path d="M685.6 553.1 C686.0 554.1 686.2 555.4 686.1 556.4 C686.0 557.4 685.7 558.2 685.1 559.1 C684.6 560.0 683.8 560.9 682.8 561.8 C681.9 562.7 680.7 563.6 679.3 564.4 C677.9 565.3 676.5 566.1 674.5 567.0 C672.5 567.9 669.7 569.0 667.2 569.9 C664.8 570.8 662.0 571.8 659.8 572.4 C657.7 572.9 656.1 573.2 654.5 573.5 C652.9 573.7 651.4 573.8 650.1 573.7 C648.8 573.7 647.6 573.5 646.6 573.1 C645.6 572.8 644.8 572.4 644.1 571.7 C643.4 571.0 642.8 569.9 642.4 568.9 C642.0 567.9 641.8 566.6 641.9 565.6 C642.0 564.6 642.3 563.8 642.9 562.9 C643.4 562.0 644.2 561.1 645.2 560.2 C646.1 559.3 647.3 558.4 648.7 557.6 C650.1 556.7 651.5 555.9 653.5 555.0 C655.5 554.1 658.3 553.0 660.8 552.1 C663.2 551.2 666.0 550.2 668.2 549.6 C670.3 549.1 671.9 548.8 673.5 548.5 C675.1 548.3 676.6 548.2 677.9 548.3 C679.2 548.3 680.4 548.5 681.4 548.9 C682.4 549.2 683.2 549.6 683.9 550.3 C684.6 551.0 685.2 552.1 685.6 553.1 Z" fill="none" stroke="#fff" stroke-width="4.6"/></g>
<g><path d="M707.7 531.1 C708.4 532.0 709.0 533.1 709.2 534.1 C709.5 535.0 709.4 535.9 709.2 537.0 C708.9 538.0 708.5 539.0 707.9 540.2 C707.2 541.3 706.4 542.5 705.4 543.7 C704.4 545.0 703.3 546.1 701.7 547.6 C700.1 549.0 697.9 550.9 695.8 552.5 C693.8 554.1 691.5 555.8 689.7 557.0 C687.9 558.2 686.5 558.9 685.0 559.6 C683.6 560.3 682.2 560.8 681.0 561.2 C679.7 561.5 678.6 561.7 677.6 561.6 C676.5 561.6 675.6 561.5 674.7 561.0 C673.9 560.5 672.9 559.7 672.3 558.9 C671.6 558.0 671.0 556.9 670.8 555.9 C670.5 555.0 670.6 554.1 670.8 553.0 C671.1 552.0 671.5 551.0 672.1 549.8 C672.8 548.7 673.6 547.5 674.6 546.3 C675.6 545.0 676.7 543.9 678.3 542.4 C679.9 541.0 682.1 539.1 684.2 537.5 C686.2 535.9 688.5 534.2 690.3 533.0 C692.1 531.8 693.5 531.1 695.0 530.4 C696.4 529.7 697.8 529.2 699.0 528.8 C700.3 528.5 701.4 528.3 702.4 528.4 C703.5 528.4 704.4 528.5 705.3 529.0 C706.1 529.5 707.1 530.3 707.7 531.1 Z" fill="none" stroke="#1a1a1a" stroke-width="7.8"/><path d="M707.7 531.1 C708.4 532.0 709.0 533.1 709.2 534.1 C709.5 535.0 709.4 535.9 709.2 537.0 C708.9 538.0 708.5 539.0 707.9 540.2 C707.2 541.3 706.4 542.5 705.4 543.7 C704.4 545.0 703.3 546.1 701.7 547.6 C700.1 549.0 697.9 550.9 695.8 552.5 C693.8 554.1 691.5 555.8 689.7 557.0 C687.9 558.2 686.5 558.9 685.0 559.6 C683.6 560.3 682.2 560.8 681.0 561.2 C679.7 561.5 678.6 561.7 677.6 561.6 C676.5 561.6 675.6 561.5 674.7 561.0 C673.9 560.5 672.9 559.7 672.3 558.9 C671.6 558.0 671.0 556.9 670.8 555.9 C670.5 555.0 670.6 554.1 670.8 553.0 C671.1 552.0 671.5 551.0 672.1 549.8 C672.8 548.7 673.6 547.5 674.6 546.3 C675.6 545.0 676.7 543.9 678.3 542.4 C679.9 541.0 682.1 539.1 684.2 537.5 C686.2 535.9 688.5 534.2 690.3 533.0 C692.1 531.8 693.5 531.1 695.0 530.4 C696.4 529.7 697.8 529.2 699.0 528.8 C700.3 528.5 701.4 528.3 702.4 528.4 C703.5 528.4 704.4 528.5 705.3 529.0 C706.1 529.5 707.1 530.3 707.7 531.1 Z" fill="none" stroke="#fff" stroke-width="4.6"/></g>
<g><path d="M698.0 524.0 C698.8 520.3 700.2 514.7 702.0 511.0 C703.8 507.3 706.5 504.0 709.0 502.0 C711.5 500.0 714.6 498.8 717.0 499.0 C719.4 499.2 722.2 500.7 723.5 503.0 C724.8 505.3 725.4 509.2 725.0 513.0 C724.6 516.8 722.8 522.2 721.0 526.0 C719.2 529.8 716.5 533.4 714.0 536.0 C711.5 538.6 708.3 540.8 706.0 541.5 C703.7 542.2 701.5 541.4 700.0 540.0 C698.5 538.6 697.3 535.7 697.0 533.0 C696.7 530.3 697.2 527.7 698.0 524.0 Z" fill="none" stroke="#1a1a1a" stroke-width="7.8"/><path d="M698.0 524.0 C698.8 520.3 700.2 514.7 702.0 511.0 C703.8 507.3 706.5 504.0 709.0 502.0 C711.5 500.0 714.6 498.8 717.0 499.0 C719.4 499.2 722.2 500.7 723.5 503.0 C724.8 505.3 725.4 509.2 725.0 513.0 C724.6 516.8 722.8 522.2 721.0 526.0 C719.2 529.8 716.5 533.4 714.0 536.0 C711.5 538.6 708.3 540.8 706.0 541.5 C703.7 542.2 701.5 541.4 700.0 540.0 C698.5 538.6 697.3 535.7 697.0 533.0 C696.7 530.3 697.2 527.7 698.0 524.0 Z" fill="none" stroke="#fff" stroke-width="4.6"/></g>
<g clip-path="url(#ov0)"><path d="M577.0 474.0 C577.7 470.9 579.1 470.5 581.0 469.5 C582.9 468.5 585.7 468.0 588.5 468.0 C591.3 468.0 595.6 468.0 598.0 469.5 C600.4 471.0 602.4 474.0 603.0 477.0 C603.6 480.0 602.8 484.3 601.5 487.6 C600.2 490.9 597.5 494.3 595.5 497.0 C593.5 499.7 591.4 502.8 589.5 504.0 C587.6 505.2 585.7 505.3 584.0 504.5 C582.3 503.7 580.7 501.8 579.5 499.0 C578.3 496.2 577.4 492.2 577.0 488.0 C576.6 483.8 576.3 477.1 577.0 474.0 Z" fill="none" stroke="#1a1a1a" stroke-width="7.8"/><path d="M577.0 474.0 C577.7 470.9 579.1 470.5 581.0 469.5 C582.9 468.5 585.7 468.0 588.5 468.0 C591.3 468.0 595.6 468.0 598.0 469.5 C600.4 471.0 602.4 474.0 603.0 477.0 C603.6 480.0 602.8 484.3 601.5 487.6 C600.2 490.9 597.5 494.3 595.5 497.0 C593.5 499.7 591.4 502.8 589.5 504.0 C587.6 505.2 585.7 505.3 584.0 504.5 C582.3 503.7 580.7 501.8 579.5 499.0 C578.3 496.2 577.4 492.2 577.0 488.0 C576.6 483.8 576.3 477.1 577.0 474.0 Z" fill="none" stroke="#fff" stroke-width="4.6"/></g>
<g clip-path="url(#ov1)"><path d="M603.0 540.9 C601.9 541.6 600.7 542.1 599.6 542.3 C598.5 542.4 597.6 542.3 596.5 542.0 C595.4 541.6 594.3 541.1 593.2 540.3 C592.1 539.6 590.9 538.6 589.7 537.4 C588.5 536.2 587.4 535.0 586.1 533.2 C584.7 531.4 583.0 528.8 581.6 526.6 C580.2 524.3 578.6 521.7 577.6 519.7 C576.6 517.6 576.0 516.1 575.4 514.5 C574.9 512.9 574.5 511.5 574.3 510.1 C574.1 508.8 574.1 507.5 574.3 506.4 C574.5 505.3 574.7 504.4 575.4 503.5 C576.0 502.6 577.0 501.7 578.0 501.1 C579.1 500.4 580.3 499.9 581.4 499.7 C582.5 499.6 583.4 499.7 584.5 500.0 C585.6 500.4 586.7 500.9 587.8 501.7 C588.9 502.4 590.1 503.4 591.3 504.6 C592.5 505.8 593.6 507.0 594.9 508.8 C596.3 510.6 598.0 513.2 599.4 515.4 C600.8 517.7 602.4 520.3 603.4 522.3 C604.4 524.4 605.0 525.9 605.6 527.5 C606.1 529.1 606.5 530.5 606.7 531.9 C606.9 533.2 606.9 534.5 606.7 535.6 C606.5 536.7 606.3 537.6 605.6 538.5 C605.0 539.4 604.0 540.3 603.0 540.9 Z" fill="none" stroke="#1a1a1a" stroke-width="7.8"/><path d="M603.0 540.9 C601.9 541.6 600.7 542.1 599.6 542.3 C598.5 542.4 597.6 542.3 596.5 542.0 C595.4 541.6 594.3 541.1 593.2 540.3 C592.1 539.6 590.9 538.6 589.7 537.4 C588.5 536.2 587.4 535.0 586.1 533.2 C584.7 531.4 583.0 528.8 581.6 526.6 C580.2 524.3 578.6 521.7 577.6 519.7 C576.6 517.6 576.0 516.1 575.4 514.5 C574.9 512.9 574.5 511.5 574.3 510.1 C574.1 508.8 574.1 507.5 574.3 506.4 C574.5 505.3 574.7 504.4 575.4 503.5 C576.0 502.6 577.0 501.7 578.0 501.1 C579.1 500.4 580.3 499.9 581.4 499.7 C582.5 499.6 583.4 499.7 584.5 500.0 C585.6 500.4 586.7 500.9 587.8 501.7 C588.9 502.4 590.1 503.4 591.3 504.6 C592.5 505.8 593.6 507.0 594.9 508.8 C596.3 510.6 598.0 513.2 599.4 515.4 C600.8 517.7 602.4 520.3 603.4 522.3 C604.4 524.4 605.0 525.9 605.6 527.5 C606.1 529.1 606.5 530.5 606.7 531.9 C606.9 533.2 606.9 534.5 606.7 535.6 C606.5 536.7 606.3 537.6 605.6 538.5 C605.0 539.4 604.0 540.3 603.0 540.9 Z" fill="none" stroke="#fff" stroke-width="4.6"/></g>
<g clip-path="url(#ov2)"><path d="M619.0 569.3 C618.1 569.9 616.9 570.5 615.8 570.7 C614.8 570.9 613.9 570.7 612.8 570.5 C611.8 570.2 610.7 569.6 609.5 568.9 C608.4 568.2 607.2 567.3 605.9 566.2 C604.7 565.0 603.5 563.8 602.1 562.1 C600.7 560.4 598.8 557.9 597.3 555.7 C595.8 553.6 594.1 551.0 593.0 549.1 C591.8 547.1 591.1 545.6 590.5 544.1 C589.8 542.5 589.4 541.1 589.1 539.8 C588.8 538.4 588.7 537.2 588.8 536.1 C588.9 535.0 589.1 534.1 589.6 533.2 C590.2 532.3 591.1 531.4 592.0 530.7 C592.9 530.1 594.1 529.5 595.2 529.3 C596.2 529.1 597.1 529.3 598.2 529.5 C599.2 529.8 600.3 530.4 601.5 531.1 C602.6 531.8 603.8 532.7 605.1 533.8 C606.3 535.0 607.5 536.2 608.9 537.9 C610.3 539.6 612.2 542.1 613.7 544.3 C615.2 546.4 616.9 549.0 618.0 550.9 C619.2 552.9 619.9 554.4 620.5 555.9 C621.2 557.5 621.6 558.9 621.9 560.2 C622.2 561.6 622.3 562.8 622.2 563.9 C622.1 565.0 621.9 565.9 621.4 566.8 C620.8 567.7 619.9 568.6 619.0 569.3 Z" fill="none" stroke="#1a1a1a" stroke-width="7.8"/><path d="M619.0 569.3 C618.1 569.9 616.9 570.5 615.8 570.7 C614.8 570.9 613.9 570.7 612.8 570.5 C611.8 570.2 610.7 569.6 609.5 568.9 C608.4 568.2 607.2 567.3 605.9 566.2 C604.7 565.0 603.5 563.8 602.1 562.1 C600.7 560.4 598.8 557.9 597.3 555.7 C595.8 553.6 594.1 551.0 593.0 549.1 C591.8 547.1 591.1 545.6 590.5 544.1 C589.8 542.5 589.4 541.1 589.1 539.8 C588.8 538.4 588.7 537.2 588.8 536.1 C588.9 535.0 589.1 534.1 589.6 533.2 C590.2 532.3 591.1 531.4 592.0 530.7 C592.9 530.1 594.1 529.5 595.2 529.3 C596.2 529.1 597.1 529.3 598.2 529.5 C599.2 529.8 600.3 530.4 601.5 531.1 C602.6 531.8 603.8 532.7 605.1 533.8 C606.3 535.0 607.5 536.2 608.9 537.9 C610.3 539.6 612.2 542.1 613.7 544.3 C615.2 546.4 616.9 549.0 618.0 550.9 C619.2 552.9 619.9 554.4 620.5 555.9 C621.2 557.5 621.6 558.9 621.9 560.2 C622.2 561.6 622.3 562.8 622.2 563.9 C622.1 565.0 621.9 565.9 621.4 566.8 C620.8 567.7 619.9 568.6 619.0 569.3 Z" fill="none" stroke="#fff" stroke-width="4.6"/></g>
<g clip-path="url(#ov3)"><path d="M653.0 569.8 C652.8 570.9 652.3 572.1 651.7 573.0 C651.1 573.8 650.3 574.4 649.4 574.9 C648.4 575.4 647.3 575.8 646.0 576.0 C644.7 576.3 643.2 576.4 641.6 576.5 C639.9 576.5 638.3 576.4 636.1 576.1 C633.9 575.9 631.0 575.3 628.4 574.8 C625.9 574.2 623.0 573.5 620.8 572.9 C618.7 572.3 617.2 571.7 615.7 571.0 C614.2 570.3 613.0 569.6 611.9 568.8 C610.8 568.0 609.9 567.2 609.3 566.4 C608.6 565.5 608.1 564.7 607.9 563.7 C607.7 562.6 607.8 561.3 608.0 560.2 C608.2 559.1 608.7 557.9 609.3 557.0 C609.9 556.2 610.7 555.6 611.6 555.1 C612.6 554.6 613.7 554.2 615.0 554.0 C616.3 553.7 617.8 553.6 619.4 553.5 C621.1 553.5 622.7 553.6 624.9 553.9 C627.1 554.1 630.0 554.7 632.6 555.2 C635.1 555.8 638.0 556.5 640.2 557.1 C642.3 557.7 643.8 558.3 645.3 559.0 C646.8 559.7 648.0 560.4 649.1 561.2 C650.2 562.0 651.1 562.8 651.7 563.6 C652.4 564.5 652.9 565.3 653.1 566.3 C653.3 567.4 653.2 568.7 653.0 569.8 Z" fill="none" stroke="#1a1a1a" stroke-width="7.8"/><path d="M653.0 569.8 C652.8 570.9 652.3 572.1 651.7 573.0 C651.1 573.8 650.3 574.4 649.4 574.9 C648.4 575.4 647.3 575.8 646.0 576.0 C644.7 576.3 643.2 576.4 641.6 576.5 C639.9 576.5 638.3 576.4 636.1 576.1 C633.9 575.9 631.0 575.3 628.4 574.8 C625.9 574.2 623.0 573.5 620.8 572.9 C618.7 572.3 617.2 571.7 615.7 571.0 C614.2 570.3 613.0 569.6 611.9 568.8 C610.8 568.0 609.9 567.2 609.3 566.4 C608.6 565.5 608.1 564.7 607.9 563.7 C607.7 562.6 607.8 561.3 608.0 560.2 C608.2 559.1 608.7 557.9 609.3 557.0 C609.9 556.2 610.7 555.6 611.6 555.1 C612.6 554.6 613.7 554.2 615.0 554.0 C616.3 553.7 617.8 553.6 619.4 553.5 C621.1 553.5 622.7 553.6 624.9 553.9 C627.1 554.1 630.0 554.7 632.6 555.2 C635.1 555.8 638.0 556.5 640.2 557.1 C642.3 557.7 643.8 558.3 645.3 559.0 C646.8 559.7 648.0 560.4 649.1 561.2 C650.2 562.0 651.1 562.8 651.7 563.6 C652.4 564.5 652.9 565.3 653.1 566.3 C653.3 567.4 653.2 568.7 653.0 569.8 Z" fill="none" stroke="#fff" stroke-width="4.6"/></g>
<g clip-path="url(#ov4)"><path d="M685.6 553.1 C686.0 554.1 686.2 555.4 686.1 556.4 C686.0 557.4 685.7 558.2 685.1 559.1 C684.6 560.0 683.8 560.9 682.8 561.8 C681.9 562.7 680.7 563.6 679.3 564.4 C677.9 565.3 676.5 566.1 674.5 567.0 C672.5 567.9 669.7 569.0 667.2 569.9 C664.8 570.8 662.0 571.8 659.8 572.4 C657.7 572.9 656.1 573.2 654.5 573.5 C652.9 573.7 651.4 573.8 650.1 573.7 C648.8 573.7 647.6 573.5 646.6 573.1 C645.6 572.8 644.8 572.4 644.1 571.7 C643.4 571.0 642.8 569.9 642.4 568.9 C642.0 567.9 641.8 566.6 641.9 565.6 C642.0 564.6 642.3 563.8 642.9 562.9 C643.4 562.0 644.2 561.1 645.2 560.2 C646.1 559.3 647.3 558.4 648.7 557.6 C650.1 556.7 651.5 555.9 653.5 555.0 C655.5 554.1 658.3 553.0 660.8 552.1 C663.2 551.2 666.0 550.2 668.2 549.6 C670.3 549.1 671.9 548.8 673.5 548.5 C675.1 548.3 676.6 548.2 677.9 548.3 C679.2 548.3 680.4 548.5 681.4 548.9 C682.4 549.2 683.2 549.6 683.9 550.3 C684.6 551.0 685.2 552.1 685.6 553.1 Z" fill="none" stroke="#1a1a1a" stroke-width="7.8"/><path d="M685.6 553.1 C686.0 554.1 686.2 555.4 686.1 556.4 C686.0 557.4 685.7 558.2 685.1 559.1 C684.6 560.0 683.8 560.9 682.8 561.8 C681.9 562.7 680.7 563.6 679.3 564.4 C677.9 565.3 676.5 566.1 674.5 567.0 C672.5 567.9 669.7 569.0 667.2 569.9 C664.8 570.8 662.0 571.8 659.8 572.4 C657.7 572.9 656.1 573.2 654.5 573.5 C652.9 573.7 651.4 573.8 650.1 573.7 C648.8 573.7 647.6 573.5 646.6 573.1 C645.6 572.8 644.8 572.4 644.1 571.7 C643.4 571.0 642.8 569.9 642.4 568.9 C642.0 567.9 641.8 566.6 641.9 565.6 C642.0 564.6 642.3 563.8 642.9 562.9 C643.4 562.0 644.2 561.1 645.2 560.2 C646.1 559.3 647.3 558.4 648.7 557.6 C650.1 556.7 651.5 555.9 653.5 555.0 C655.5 554.1 658.3 553.0 660.8 552.1 C663.2 551.2 666.0 550.2 668.2 549.6 C670.3 549.1 671.9 548.8 673.5 548.5 C675.1 548.3 676.6 548.2 677.9 548.3 C679.2 548.3 680.4 548.5 681.4 548.9 C682.4 549.2 683.2 549.6 683.9 550.3 C684.6 551.0 685.2 552.1 685.6 553.1 Z" fill="none" stroke="#fff" stroke-width="4.6"/></g>
<g clip-path="url(#ov5)"><path d="M707.7 531.1 C708.4 532.0 709.0 533.1 709.2 534.1 C709.5 535.0 709.4 535.9 709.2 537.0 C708.9 538.0 708.5 539.0 707.9 540.2 C707.2 541.3 706.4 542.5 705.4 543.7 C704.4 545.0 703.3 546.1 701.7 547.6 C700.1 549.0 697.9 550.9 695.8 552.5 C693.8 554.1 691.5 555.8 689.7 557.0 C687.9 558.2 686.5 558.9 685.0 559.6 C683.6 560.3 682.2 560.8 681.0 561.2 C679.7 561.5 678.6 561.7 677.6 561.6 C676.5 561.6 675.6 561.5 674.7 561.0 C673.9 560.5 672.9 559.7 672.3 558.9 C671.6 558.0 671.0 556.9 670.8 555.9 C670.5 555.0 670.6 554.1 670.8 553.0 C671.1 552.0 671.5 551.0 672.1 549.8 C672.8 548.7 673.6 547.5 674.6 546.3 C675.6 545.0 676.7 543.9 678.3 542.4 C679.9 541.0 682.1 539.1 684.2 537.5 C686.2 535.9 688.5 534.2 690.3 533.0 C692.1 531.8 693.5 531.1 695.0 530.4 C696.4 529.7 697.8 529.2 699.0 528.8 C700.3 528.5 701.4 528.3 702.4 528.4 C703.5 528.4 704.4 528.5 705.3 529.0 C706.1 529.5 707.1 530.3 707.7 531.1 Z" fill="none" stroke="#1a1a1a" stroke-width="7.8"/><path d="M707.7 531.1 C708.4 532.0 709.0 533.1 709.2 534.1 C709.5 535.0 709.4 535.9 709.2 537.0 C708.9 538.0 708.5 539.0 707.9 540.2 C707.2 541.3 706.4 542.5 705.4 543.7 C704.4 545.0 703.3 546.1 701.7 547.6 C700.1 549.0 697.9 550.9 695.8 552.5 C693.8 554.1 691.5 555.8 689.7 557.0 C687.9 558.2 686.5 558.9 685.0 559.6 C683.6 560.3 682.2 560.8 681.0 561.2 C679.7 561.5 678.6 561.7 677.6 561.6 C676.5 561.6 675.6 561.5 674.7 561.0 C673.9 560.5 672.9 559.7 672.3 558.9 C671.6 558.0 671.0 556.9 670.8 555.9 C670.5 555.0 670.6 554.1 670.8 553.0 C671.1 552.0 671.5 551.0 672.1 549.8 C672.8 548.7 673.6 547.5 674.6 546.3 C675.6 545.0 676.7 543.9 678.3 542.4 C679.9 541.0 682.1 539.1 684.2 537.5 C686.2 535.9 688.5 534.2 690.3 533.0 C692.1 531.8 693.5 531.1 695.0 530.4 C696.4 529.7 697.8 529.2 699.0 528.8 C700.3 528.5 701.4 528.3 702.4 528.4 C703.5 528.4 704.4 528.5 705.3 529.0 C706.1 529.5 707.1 530.3 707.7 531.1 Z" fill="none" stroke="#fff" stroke-width="4.6"/></g><path d="M711.5 506 V446.5 A3.25 3.25 0 0 1 718 446.5 V506 Q714.75 509 711.5 506 Z" fill="#fff" stroke="#222" stroke-width="1.4"/><rect x="565" y="476" width="19" height="11" fill="#fff" stroke="#222" stroke-width="1.5"/><line x1="587.5" y1="473.5" x2="587.5" y2="492" stroke="#222" stroke-width="1.3"/>
<g fill="none" stroke="#222" stroke-width="1.5">
 <rect x="214.4" y="618" width="404.6" height="8.4" fill="#fff"/>
 <line x1="247.4" y1="618" x2="247.4" y2="626.4" stroke-width="1"/>
 <line x1="285" y1="618" x2="285" y2="626.4" stroke-width="1"/>
 <line x1="302" y1="618" x2="302" y2="626.4" stroke-width="1"/>
 <path d="M322 617.8 C334 617 341 603 345.5 591 H599 V618"/>
 <path d="M336 618 L348 597.5 Q349.5 595.5 352 595.5 H593 V618" stroke="#555" stroke-width="1.1" stroke-dasharray="13.5 13.5" stroke-dashoffset="6.8"/>
 <line x1="593" y1="610.5" x2="593" y2="617.5" stroke="#555" stroke-width="1.1"/>
</g>


<g fill="none" stroke="#444" stroke-width="1">
 <path d="M864 211 V208.8 H923.5"/>
 <line x1="923.5" y1="209" x2="923.5" y2="223" stroke="#c77"/>
 <line x1="893" y1="211" x2="893" y2="220"/>
 <line x1="893" y1="238" x2="893" y2="254"/>
</g>
<path d="M893 222 L890.5 216 L895.5 216 Z M893 236 L890.5 242 L895.5 242 Z" fill="#222"/>
<path d="M864 220.8 Q857.5 221 857.8 226.5 L859.5 228 L857.8 229.8 Q857.5 236 864 236.4 Z" fill="#fff" stroke="#111" stroke-width="1.5"/>
<path d="M866.5 221.8 l2 1.6 l-2 1.6 M871.8 221.8 l2 1.6 l-2 1.6 M877.1 221.8 l2 1.6 l-2 1.6 M882.4 221.8 l2 1.6 l-2 1.6 M887.7 221.8 l2 1.6 l-2 1.6 M893.0 221.8 l2 1.6 l-2 1.6 M898.3 221.8 l2 1.6 l-2 1.6 M903.6 221.8 l2 1.6 l-2 1.6 M908.9 222.4 l2 1.6 l-2 1.6 M914.2 223.6 l2 1.6 l-2 1.6 M919.5 224.8 l2 1.6 l-2 1.6" fill="none" stroke="#000" stroke-width="1.5"/>
<path d="M869.1 227.2 l1.8 1.4 l-1.8 1.4 M874.4 227.2 l1.8 1.4 l-1.8 1.4 M879.7 227.2 l1.8 1.4 l-1.8 1.4 M885.0 227.2 l1.8 1.4 l-1.8 1.4 M890.3 227.2 l1.8 1.4 l-1.8 1.4 M895.6 227.2 l1.8 1.4 l-1.8 1.4 M900.9 227.2 l1.8 1.4 l-1.8 1.4 M906.2 227.2 l1.8 1.4 l-1.8 1.4 M911.5 227.2 l1.8 1.4 l-1.8 1.4 M916.8 227.2 l1.8 1.4 l-1.8 1.4 M922.1 227.2 l1.8 1.4 l-1.8 1.4" fill="none" stroke="#111" stroke-width="1.3"/>
<path d="M866.5 235.0 l3.2 -1.4 M871.8 235.0 l3.2 -1.4 M877.1 235.0 l3.2 -1.4 M882.4 235.0 l3.2 -1.4 M887.7 235.0 l3.2 -1.4 M893.0 235.0 l3.2 -1.4 M898.3 235.0 l3.2 -1.4 M903.6 235.0 l3.2 -1.4 M908.9 234.4 l3.2 -1.4 M914.2 233.2 l3.2 -1.4" fill="none" stroke="#000" stroke-width="1.7"/>
<path d="M919 225.5 L924 228.3 L919 231" fill="none" stroke="#222" stroke-width="1.2"/>

<line x1="773.6" y1="744.4" x2="773.6" y2="793.3" stroke="#b8b8b8" stroke-width="1.2"/>
<line x1="875.9" y1="744" x2="875.9" y2="794" stroke="#b8b8b8" stroke-width="1.2"/>

<path d="M883.5 747 Q893 743.5 905 743.5 H927 L929 745 L945 746.5 L940 749 Q932 752 925.5 755.7 L939.5 793.6 H928.6 L924 781.8 H904.2 L900.6 793.6 H890.7 L904.2 759.3 Q892 753 883.5 747 Z M915 755 L907.8 775.5 H921.4 Z" fill="#111" fill-rule="evenodd"/>

<g stroke="#000" stroke-width="1.5" fill="none">
  <line x1="215.3" y1="400" x2="215.3" y2="418"/>
  <line x1="619.2" y1="402" x2="619.2" y2="420"/>
  <line x1="226" y1="411.3" x2="402" y2="411.3"/>
  <line x1="431" y1="411.3" x2="612" y2="411.3"/>
  <line x1="192" y1="437.5" x2="206" y2="437.5"/>
  <line x1="192" y1="526.5" x2="206" y2="526.5"/>
  <line x1="199" y1="446" x2="199" y2="470"/>
  <line x1="199" y1="495" x2="199" y2="518"/>
  <line x1="687.4" y1="373" x2="687.4" y2="387"/>
  <line x1="739.4" y1="373" x2="739.4" y2="387"/>
  <line x1="692" y1="379.6" x2="735" y2="379.6"/>
  <line x1="754" y1="384.8" x2="772" y2="384.8"/>
  <line x1="754" y1="568" x2="772" y2="568"/>
  <line x1="762.4" y1="390" x2="762.4" y2="463"/>
  <line x1="762.4" y1="489" x2="762.4" y2="562"/>
  <line x1="185" y1="590.4" x2="199" y2="590.4"/>
  <line x1="185" y1="626.4" x2="199" y2="626.4"/>
  <line x1="191" y1="596" x2="191" y2="621"/>
</g>
<g fill="#111">
  <path d="M223.3 411.3 L230 407.5 L228.5 411.3 L230 415 Z"/>
  <path d="M615.5 411.3 L609 407.5 L610.5 411.3 L609 415 Z"/>
  <path d="M199 441.5 L195 449 L199 447.5 L203 449 Z"/>
  <path d="M199 523 L195 515.5 L199 517 L203 515.5 Z"/>
  <path d="M687.6 379.6 L695 375.5 L693.5 379.6 L695 383.7 Z"/>
  <path d="M739.2 379.6 L731.8 375.5 L733.3 379.6 L731.8 383.7 Z"/>
  <path d="M762.4 385.5 L758.4 393 L762.4 391.5 L766.4 393 Z"/>
  <path d="M762.4 567 L758.4 559.5 L762.4 561 L766.4 559.5 Z"/>
  <path d="M191 591 L187.5 597.5 L191 596 L194.5 597.5 Z"/>
  <path d="M191 626 L187.5 619.5 L191 621 L194.5 619.5 Z"/>
</g>
<text x="100" y="150" transform="matrix(0.9103 0 0 1.0733 -44.65 47.7)" font-family="Liberation Sans" font-weight="normal" font-size="22" fill="#111" stroke="#111" stroke-width="0.25">PRODUCT CODE</text>
<text x="100" y="150" transform="matrix(1.0345 0 0 1.0467 115.12 51.7)" font-family="Liberation Sans" font-weight="normal" font-size="22" fill="#111" stroke="#111" stroke-width="0.25">73119</text>
<text x="100" y="150" transform="matrix(0.9833 0 0 0.9727 24.08 691.39)" font-family="Liberation Sans" font-weight="normal" font-size="14.5" fill="#111" stroke="#111" stroke-width="0.2">Due to the hand crafted nature of our products all measurements are approximate and should be used as a guide only</text>
<text x="100" y="150" transform="matrix(0.8765 0 0 0.9667 314.9 265.8)" font-family="Liberation Sans" font-weight="normal" font-size="22" fill="#111" stroke="#111" stroke-width="0.25">177</text>
<text x="100" y="150" transform="matrix(0.8417 0 0 1.0067 100.93 338.0)" font-family="Liberation Sans" font-weight="normal" font-size="22" fill="#111" stroke="#111" stroke-width="0.25">41</text>
<text x="100" y="150" transform="matrix(0.9636 0 0 1.0333 606.01 215.5)" font-family="Liberation Sans" font-weight="normal" font-size="22" fill="#111" stroke="#111" stroke-width="0.25">16</text>
<text x="100" y="150" transform="matrix(1.0261 0 0 1.0 651.77 332.6)" font-family="Liberation Sans" font-weight="normal" font-size="22" fill="#111" stroke="#111" stroke-width="0.25">80</text>
<text x="100" y="150" transform="matrix(0.9682 0 0 1.0333 65.15 460.3)" font-family="Liberation Sans" font-weight="normal" font-size="22" fill="#111" stroke="#111" stroke-width="0.25">13</text>
<text x="100" y="150" transform="matrix(1.0567 0 0 1.0444 752.27 46.13)" font-family="Liberation Sans" font-weight="bold" font-size="12" fill="#1a1a1a" >3/4” (19mm)</text>
<text x="100" y="150" transform="matrix(1.0532 0 0 0.9111 749.08 126.73)" font-family="Liberation Sans" font-weight="bold" font-size="12" fill="#1a1a1a" >gauge 6 (3.5mm)</text>
<text x="100" y="150" transform="matrix(1.1667 0 0 0.975 811.33 85.75)" font-family="Liberation Sans" font-weight="bold" font-size="11" fill="#1a1a1a" >x7</text>
<text x="100" y="150" transform="matrix(1.1027 0 0 1.1 671.83 593.8)" font-family="Liberation Serif" font-weight="normal" font-size="9" letter-spacing="1.6" fill="#4a453e" stroke="#4a453e" stroke-width="0.3">HANDFORGED</text>
<text x="100" y="150" transform="matrix(1.1 0 0 1.1667 673.2 596.0)" font-family="Liberation Serif" font-weight="normal" font-size="9" letter-spacing="1.6" fill="#4a453e" stroke="#4a453e" stroke-width="0.3">TRADITIONAL</text>
<text x="100" y="150" transform="matrix(1.0321 0 0 1.1667 678.96 608.2)" font-family="Liberation Serif" font-weight="normal" font-size="9" letter-spacing="1.6" fill="#4a453e" stroke="#4a453e" stroke-width="0.3">IRONMONGERY</text></svg>
</body></html>
